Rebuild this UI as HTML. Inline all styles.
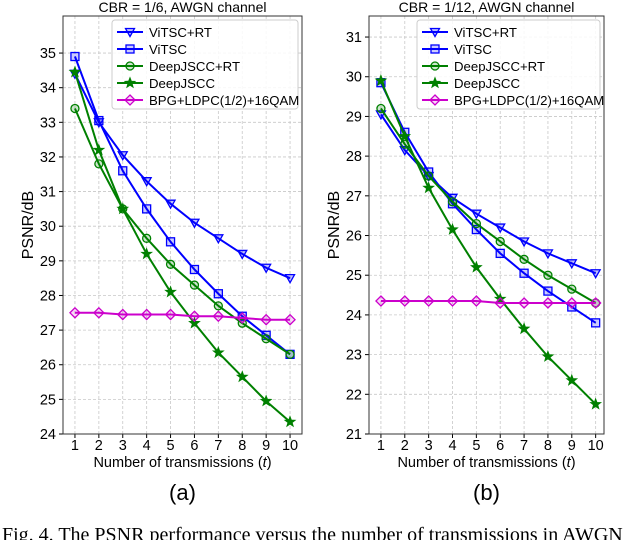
<!DOCTYPE html>
<html><head><meta charset="utf-8"><style>
body{margin:0;background:#fff;}
svg{display:block;font-family:"Liberation Sans","DejaVu Sans",sans-serif;}
</style></head><body>
<svg id="fig" width="640" height="540"></svg>
<script>
const xs=[1,2,3,4,5,6,7,8,9,10];
const seriesNames=["ViTSC+RT","ViTSC","DeepJSCC+RT","DeepJSCC","BPG+LDPC(1/2)+16QAM"];
const a_vitscRT=[34.4,33.0,32.05,31.3,30.65,30.1,29.65,29.2,28.8,28.5];
const a_vitsc=[34.9,33.05,31.6,30.5,29.55,28.75,28.05,27.4,26.85,26.3];
const a_djsccRT=[33.4,31.8,30.5,29.65,28.9,28.3,27.7,27.2,26.75,26.3];
const a_djscc=[34.45,32.2,30.5,29.2,28.1,27.2,26.35,25.65,24.95,24.35];
const a_bpg=[27.5,27.5,27.45,27.45,27.45,27.4,27.4,27.35,27.3,27.3];
const b_vitscRT=[29.05,28.15,27.5,26.95,26.55,26.2,25.85,25.55,25.3,25.05];
const b_vitsc=[29.85,28.6,27.6,26.8,26.15,25.55,25.05,24.6,24.2,23.8];
const b_djsccRT=[29.2,28.3,27.5,26.85,26.3,25.85,25.4,25.0,24.65,24.3];
const b_djscc=[29.9,28.5,27.2,26.15,25.2,24.4,23.65,22.95,22.35,21.75];
const b_bpg=[24.35,24.35,24.35,24.35,24.35,24.3,24.3,24.3,24.3,24.3];
const a_yticks=[24,25,26,27,28,29,30,31,32,33,34,35];
const b_yticks=[21,22,23,24,25,26,27,28,29,30,31];

const NS="http://www.w3.org/2000/svg";
const svg=document.getElementById('fig');
function mk(tag,attrs,parent){const e=document.createElementNS(NS,tag);for(const k in attrs)e.setAttribute(k,attrs[k]);(parent||svg).appendChild(e);return e;}
function txt(s,attrs,parent){const e=mk('text',attrs,parent);e.textContent=s;return e;}
const colors=["#0000ff","#0000ff","#008000","#008000","#cc00cc"];
const markers=["tri","sq","circ","star","diam"];
function marker(type,x,y,c,g){
  let e;
  if(type==="tri") e=mk('polygon',{points:`${x-4.5},${y-3.5} ${x+4.5},${y-3.5} ${x},${y+4.5}`,fill:c,'fill-opacity':0.25,stroke:c,'stroke-width':1.3},g);
  else if(type==="sq") e=mk('rect',{x:x-4,y:y-4,width:8,height:8,fill:c,'fill-opacity':0.2,stroke:c,'stroke-width':1.3},g);
  else if(type==="circ") e=mk('circle',{cx:x,cy:y,r:4,fill:c,'fill-opacity':0.2,stroke:c,'stroke-width':1.3},g);
  else if(type==="diam") e=mk('polygon',{points:`${x},${y-5} ${x+5},${y} ${x},${y+5} ${x-5},${y}`,fill:c,'fill-opacity':0.15,stroke:c,'stroke-width':1.3},g);
  else {let p=[];for(let i=0;i<10;i++){const r=i%2?2.3:5.5;const a=-Math.PI/2+i*Math.PI/5;p.push((x+r*Math.cos(a)).toFixed(1)+","+(y+r*Math.sin(a)).toFixed(1));}
    e=mk('polygon',{points:p.join(' '),fill:c,stroke:c,'stroke-width':0.8},g);}
  
  
}
function panel(cfg){
  const g=mk('g',{});
  
  
  const X=v=>cfg.L+(v-0.5)/(cfg.xmax-0.5)*(cfg.R-cfg.L);
  const Y=v=>cfg.B-(v-cfg.ymin)/(cfg.ymax-cfg.ymin)*(cfg.B-cfg.T);
  xs.forEach(v=>{const l=mk('line',{x1:X(v),x2:X(v),y1:cfg.T,y2:cfg.B,stroke:'#c8c8c8','stroke-dasharray':'3,2','stroke-width':0.8},g);
    const t=txt(String(v),{x:X(v),y:cfg.B+16,'font-size':14.5,'text-anchor':'middle',fill:'#000'},g);
    mk('line',{x1:X(v),x2:X(v),y1:cfg.B,y2:cfg.B+4,stroke:'#000'},g);});
  cfg.yt.forEach(v=>{const l=mk('line',{x1:cfg.L,x2:cfg.R,y1:Y(v),y2:Y(v),stroke:'#c8c8c8','stroke-dasharray':'3,2','stroke-width':0.8},g);
    const t=txt(String(v),{x:cfg.L-7,y:Y(v)+5,'font-size':14.5,'text-anchor':'end',fill:'#000'},g);
    mk('line',{x1:cfg.L-4,x2:cfg.L,y1:Y(v),y2:Y(v),stroke:'#000'},g);});
  cfg.series.forEach((d,i)=>{
    const pl=mk('polyline',{points:d.map((v,j)=>X(xs[j])+","+Y(v)).join(' '),fill:'none',stroke:colors[i],'stroke-width':2},g);
    
    
    d.forEach((v,j)=>marker(markers[i],X(xs[j]),Y(v),colors[i],g));
  });
  const fr=mk('rect',{x:cfg.L,y:cfg.T,width:cfg.R-cfg.L,height:cfg.B-cfg.T,fill:'none',stroke:'#333','stroke-width':1},g);
  
  const ti=txt(cfg.title,{x:(cfg.L+cfg.R)/2,y:12,'font-size':14,'text-anchor':'middle'},g);
  
  const xl=txt('',{x:(cfg.L+cfg.R)/2,y:cfg.B+33,'font-size':14.5,'text-anchor':'middle'},g);
  xl.innerHTML='Number of transmissions (<tspan font-style="italic">t</tspan>)';
  
  const yl=txt('PSNR/dB',{x:0,y:0,'font-size':16,'text-anchor':'middle',transform:`translate(${cfg.yx},${(cfg.T+cfg.B)/2}) rotate(-90)`},g);
  
  const lg=mk('g',{},g);
  
  mk('rect',{x:cfg.lx,y:20,width:cfg.lw,height:89,rx:3,fill:'#fff','fill-opacity':0.85,stroke:'#ccc'},lg);
  seriesNames.forEach((n,i)=>{
    const yy=32+i*17;
    const e=mk('g',{},lg);
    
    mk('line',{x1:cfg.lx+5,x2:cfg.lx+31,y1:yy,y2:yy,stroke:colors[i],'stroke-width':2},e);
    marker(markers[i],cfg.lx+18,yy,colors[i],e);
    txt(n,{x:cfg.lx+37,y:yy+5,'font-size':13.2},e);
  });
  const cap=txt(cfg.cap,{x:(cfg.L+cfg.R)/2,y:500,'font-size':22,'text-anchor':'middle'},g);
  
}
panel({name:'panel-a',L:63,R:302,T:16,B:434,xmax:10.5,ymin:24,ymax:36.07,yt:a_yticks,
  series:[a_vitscRT,a_vitsc,a_djsccRT,a_djscc,a_bpg],title:'CBR = 1/6, AWGN channel',yx:33,lx:112,lw:186,cap:'(a)'});
panel({name:'panel-b',L:369,R:604,T:16,B:434,xmax:10.35,ymin:21,ymax:31.53,yt:b_yticks,
  series:[b_vitscRT,b_vitsc,b_djsccRT,b_djscc,b_bpg],title:'CBR = 1/12, AWGN channel',yx:339,lx:417,lw:183,cap:'(b)'});
const c=txt('Fig. 4.  The PSNR performance versus the number of transmissions in AWGN',{x:2,y:541,'font-size':20,'font-family':'Liberation Serif, serif'});

</script>
</body></html>
